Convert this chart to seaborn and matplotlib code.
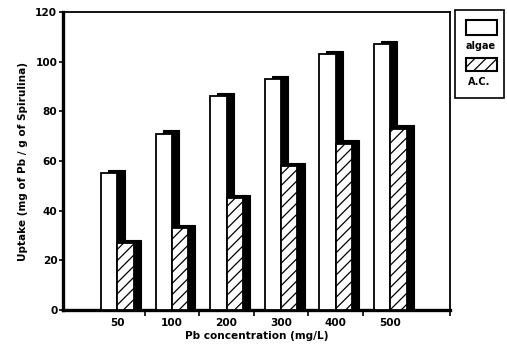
import matplotlib
matplotlib.use("Agg")
import matplotlib.pyplot as plt
import seaborn as sns
import pandas as pd
from matplotlib.patches import Rectangle

# Lead uptake per concentration for the two sorbents
concentrations = ["50", "100", "200", "300", "400", "500"]
algae_uptake = [55, 71, 86, 93, 103, 107]
ac_uptake = [27, 33, 45, 58, 67, 73]
series_names = ["algae", "A.C."]
y_ticks = [0, 20, 40, 60, 80, 100, 120]

df = pd.DataFrame({
    "conc": concentrations * 2,
    "uptake": algae_uptake + ac_uptake,
    "sorbent": [series_names[0]] * len(concentrations) + [series_names[1]] * len(concentrations),
})

sns.set_style("ticks")
plt.rcParams["font.family"] = ["DejaVu Sans"]
for key in ["text.color", "axes.labelcolor", "xtick.color", "ytick.color", "axes.edgecolor"]:
    plt.rcParams[key] = "black"
plt.rcParams["hatch.color"] = "black"
plt.rcParams["hatch.linewidth"] = 0.9

FS = 7.6

fig = plt.figure(figsize=(5.07, 3.52), dpi=100)
ax = fig.add_axes([0.124, 0.119, 0.764, 0.847])

sns.barplot(data=df, x="conc", y="uptake", hue="sorbent", order=concentrations,
            hue_order=series_names, palette=["white", "white"], width=0.6,
            edgecolor="black", linewidth=1.3, legend=False, ax=ax, saturation=1)

# hatch the activated-carbon bars
for bar in ax.containers[1]:
    bar.set_hatch("///")

# drop shadows behind every bar
dx, dy = 0.13, 1.4
for cont in ax.containers:
    for bar in cont:
        bar.set_zorder(3)
        shadow = Rectangle((bar.get_x() + dx, 0), bar.get_width(), bar.get_height() + dy,
                           facecolor="black", edgecolor="black", linewidth=0.8, zorder=2)
        ax.add_patch(shadow)

ax.set_xlim(-1.0, 6.1)
ax.set_ylim(0, 120)
ax.set_yticks(y_ticks)
ax.set_yticklabels([str(v) for v in y_ticks], fontsize=FS, fontweight="bold")
ax.set_xticks(range(len(concentrations)))
ax.set_xticklabels(concentrations, fontsize=FS, fontweight="bold")
ax.tick_params(axis="x", which="major", length=0, pad=6)
ax.set_xticks([0.5, 1.5, 2.5, 3.5, 4.5, 6.1], minor=True)
ax.tick_params(axis="x", which="minor", length=4, width=1.2, direction="out", color="black")
ax.tick_params(axis="y", length=3, width=1.2, direction="out", pad=1, color="black")

for side in ["left", "bottom"]:
    ax.spines[side].set_linewidth(2.4)
for side in ["top", "right"]:
    ax.spines[side].set_visible(True)
    ax.spines[side].set_linewidth(1.3)
for sp in ax.spines.values():
    sp.set_color("black")

ax.set_ylabel("Uptake (mg of Pb / g of Spirulina)", fontsize=FS, fontweight="bold", labelpad=5)
ax.set_xlabel("Pb concentration (mg/L)", fontsize=FS, fontweight="bold", labelpad=2)

# legend box with labels under their swatches
W, H = fig.get_size_inches() * fig.dpi
def fx(px):
    return px / W
def fy(py):
    return 1 - py / H

fig.patches.append(Rectangle((fx(455), fy(98)), fx(49), 88 / H, transform=fig.transFigure,
                             facecolor="white", edgecolor="black", linewidth=1.2))
fig.patches.append(Rectangle((fx(466), fy(35)), fx(31), 15 / H, transform=fig.transFigure,
                             facecolor="white", edgecolor="black", linewidth=1.5))
fig.patches.append(Rectangle((fx(466), fy(71)), fx(31), 13 / H, transform=fig.transFigure,
                             facecolor="white", edgecolor="black", linewidth=1.5, hatch="///"))
fig.text(fx(481), fy(46), series_names[0], ha="center", va="center", fontsize=7, fontweight="bold")
fig.text(fx(479), fy(82), series_names[1], ha="center", va="center", fontsize=7, fontweight="bold")

fig.savefig("out.png", dpi=100)
